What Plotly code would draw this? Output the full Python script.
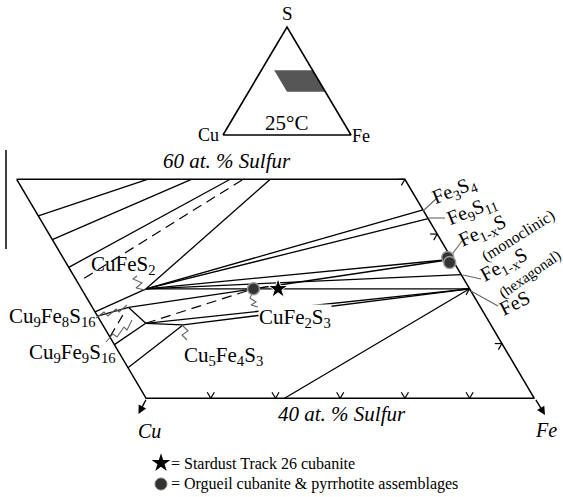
import plotly.graph_objects as go

W, H = 563, 497

# ---------------- data: phase compositions [at.% Cu, at.% S] ----------------
CHALCOPYRITE = [25.0, 50.0]      # CuFeS2
CUBANITE = [16.7, 50.0]          # CuFe2S3 (Orgueil)
CUBANITE_SD = [14.8, 50.0]       # Stardust Track 26 cubanite
FE3S4 = [0.0, 57.2]
FE9S11 = [0.0, 56.4]
PO_MONO = [0.0, 52.7]
PO_HEX = [0.0, 51.3]
FES = [0.0, 50.0]
ISS_A = [27.2, 48.3]
ISS_B = [26.6, 46.85]
ISS_C = [23.8, 46.7]

frame_cu = [30, 0, 0, 30, 30]
frame_s = [60, 60, 40, 40, 60]

solid_ties = [
    ([30.0, 56.65], [19.9, 60.0]),
    ([30.0, 54.5], [16.5, 60.0]),
    ([30.0, 51.96], [13.5, 60.0]),
    (CHALCOPYRITE, [10.4, 60.0]),
    (CHALCOPYRITE, FE3S4),
    (CHALCOPYRITE, FE9S11),
    (CHALCOPYRITE, PO_MONO),
    (CHALCOPYRITE, PO_HEX),
    (CHALCOPYRITE, FES),
    (CUBANITE, PO_MONO),
    ([30.0, 47.9], CHALCOPYRITE),
    ([30.0, 47.5], ISS_A),
    (ISS_A, CUBANITE),
    (ISS_A, ISS_B),
    (ISS_B, [30.0, 44.9]),
    (ISS_B, ISS_C),
    (ISS_C, [30.0, 42.8]),
    (ISS_B, FES),
    (ISS_C, FES),
    ([19.3, 40.0], FES),
]
dashed_ties = [
    ([29.3, 50.96], [12.5, 60.0]),
    (ISS_B, CUBANITE),
    ([30.0, 45.6], [28.0, 47.6]),
]

bottom_tick_cu = [5, 10, 15, 20, 25]
right_tick_s = [45, 50, 55, 60]

orgueil_cu = [16.7, 0.26, 0.34]
orgueil_s = [50.0, 52.86, 52.4]
stardust_cu = [CUBANITE_SD[0]]
stardust_s = [CUBANITE_SD[1]]

# inset ternary: region of the enlarged section
inset_cu = [30, 0, 0, 30]
inset_s = [60, 60, 40, 40]


def tx(cu, s):
    """ternary -> cartesian x (Fe + S/2)"""
    return 100 - cu - s / 2.0


# pixel helpers for decorations (labels / leaders)
X0, KX = 16.7, 12.94
Y0, KY = 398.3, 10.95


def pix(px, py):
    return 40 + (px - X0) / KX, 40 + (Y0 - py) / KY


def pp(px, py):
    return px / W, 1 - py / H


fig = go.Figure()


def add_segments(pairs, dash="solid", width=1.3, color="black"):
    xs, ys = [], []
    for a, b in pairs:
        xs += [tx(*a), tx(*b), None]
        ys += [a[1], b[1], None]
    fig.add_trace(go.Scatter(x=xs, y=ys, mode="lines",
                             line=dict(color=color, width=width, dash=dash),
                             hoverinfo="skip", showlegend=False))


def add_pixline(points, color="#555", width=1.0):
    xs, ys = zip(*[pix(*p) for p in points])
    fig.add_trace(go.Scatter(x=list(xs), y=list(ys), mode="lines",
                             line=dict(color=color, width=width),
                             hoverinfo="skip", showlegend=False))


# frame
fig.add_trace(go.Scatter(x=[tx(c, s) for c, s in zip(frame_cu, frame_s)], y=frame_s,
                         mode="lines", line=dict(color="black", width=1.5),
                         hoverinfo="skip", showlegend=False))
add_segments(solid_ties, width=1.3)
add_segments(dashed_ties, dash="10px,6px", width=1.2)

# ticks
tick_pairs = []
d = 0.55
for c in bottom_tick_cu:
    tick_pairs.append(([c, 40 + d], [c, 40]))
    tick_pairs.append(([c, 40], [c - d, 40 + d]))
for s in right_tick_s:
    tick_pairs.append(([d, s], [0, s]))
    tick_pairs.append(([0, s], [d, s - d]))
add_segments(tick_pairs, width=1.2)

# leaders (gray)
leaders = [
    [(145, 290), (136, 288), (142, 283), (133, 279), (137, 276)],
    [(96, 318), (104, 312), (108, 316), (116, 309), (119, 312), (127, 305)],
    [(106, 342), (113, 334), (117, 337), (124, 327), (127, 330), (132, 320)],
    [(182, 325), (188, 331), (182, 335), (187, 340)],
    [(252, 294), (250, 298), (256, 302), (251, 305), (258, 307)],
    [(423, 211), (437, 198)],
    [(428, 218), (445, 218)],
    [(450, 257), (462, 241)],
    [(463, 275), (481, 279)],
    [(471, 291), (498, 306)],
]
for L in leaders:
    add_pixline(L, color="#666", width=1.1)

FONT = "Liberation Serif, Times New Roman, serif"


def label(text, px, py, size=18, angle=0, xanchor="center", color="black", bg=None):
    x, y = pp(px, py)
    fig.add_annotation(x=x, y=y, xref="paper", yref="paper", text=text, showarrow=False,
                       textangle=angle, xanchor=xanchor, yanchor="middle",
                       bgcolor=bg, borderpad=0,
                       font=dict(family=FONT, size=size, color=color))


# markers
fig.add_trace(go.Scatter(x=[tx(c, s) for c, s in zip(orgueil_cu, orgueil_s)], y=orgueil_s,
                         mode="markers",
                         marker=dict(size=12, color="#333", line=dict(color="#999", width=1.5)),
                         hoverinfo="skip", showlegend=False))
fig.add_trace(go.Scatter(x=[tx(c, s) for c, s in zip(stardust_cu, stardust_s)], y=stardust_s,
                         mode="markers",
                         marker=dict(size=15, color="black", symbol="star",
                                     line=dict(color="white", width=1)),
                         hoverinfo="skip", showlegend=False))

# legend keys
kx1, ky1 = pix(161, 463)
kx2, ky2 = pix(161, 484)
fig.add_trace(go.Scatter(x=[kx1], y=[ky1], mode="markers",
                         marker=dict(size=14, color="black", symbol="star"),
                         hoverinfo="skip", showlegend=False))
fig.add_trace(go.Scatter(x=[kx2], y=[ky2], mode="markers",
                         marker=dict(size=12, color="#333", line=dict(color="#777", width=1)),
                         hoverinfo="skip", showlegend=False))

# inset triangle
tri_cu = [100, 0, 0, 100]
tri_s = [0, 0, 100, 0]
fig.add_trace(go.Scatter(x=[tx(c, s) for c, s in zip(inset_cu, inset_s)] + [tx(inset_cu[0], inset_s[0])],
                         y=inset_s + [inset_s[0]], mode="lines", fill="toself",
                         fillcolor="#565656", line=dict(width=0, color="#565656"),
                         xaxis="x2", yaxis="y2", hoverinfo="skip", showlegend=False))
fig.add_trace(go.Scatter(x=[tx(c, s) for c, s in zip(tri_cu, tri_s)], y=tri_s,
                         mode="lines", line=dict(color="black", width=1.6),
                         xaxis="x2", yaxis="y2", hoverinfo="skip", showlegend=False))

label("S", 287, 14, 19)
label("Cu", 208, 135, 18)
label("Fe", 361, 136, 18)
label("25°C", 286, 123, 21)

label("<i>60 at. % Sulfur</i>", 227, 161, 21)
label("<i>40 at. % Sulfur</i>", 342, 414, 21)
label("<i>Cu</i>", 149, 431, 20)
label("<i>Fe</i>", 546, 430, 20)

label("CuFeS<sub>2</sub>", 123, 265, 21)
label("Cu<sub>9</sub>Fe<sub>8</sub>S<sub>16</sub>", 52, 317, 21)
label("Cu<sub>9</sub>Fe<sub>9</sub>S<sub>16</sub>", 72, 353, 21)
label("Cu<sub>5</sub>Fe<sub>4</sub>S<sub>3</sub>", 223, 356, 21)
label("CuFe<sub>2</sub>S<sub>3</sub>", 295, 318, 21, bg="white")
label("Fe<sub>3</sub>S<sub>4</sub>", 455, 191, 20, -22)
label("Fe<sub>9</sub>S<sub>11</sub>", 472, 210, 20, -22)
label("Fe<sub>1-x</sub>S", 483, 232, 20, -25)
label("(monoclinic)", 518, 236, 16, -32)
label("Fe<sub>1-x</sub>S", 504, 265, 20, -28)
label("(hexagonal)", 530, 274, 15, -35)
label("FeS", 514, 303, 20, -27)

label("= Stardust Track 26 cubanite", 170, 463, 16, xanchor="left")
label("= Orgueil cubanite &amp; pyrrhotite assemblages", 170, 484, 16, xanchor="left")

# arrows
for head, tail in [((138.5, 414), (146.7, 398.3)), ((545, 415), (535, 398.3))]:
    hx, hy = pp(*head)
    fig.add_annotation(x=hx, y=hy, xref="paper", yref="paper", ax=tail[0] - head[0], ay=tail[1] - head[1],
                       axref="pixel", ayref="pixel", showarrow=True, arrowhead=2, arrowsize=1.2,
                       arrowwidth=1.4, arrowcolor="black", text="")

# crop line at left
fig.add_shape(type="line", xref="paper", yref="paper", x0=6 / W, x1=6 / W, y0=1 - 150 / H, y1=1 - 249 / H,
              line=dict(color="black", width=1.5))

xr = [40 - X0 / KX, 40 + (W - X0) / KX]
yr = [40 - (H - Y0) / KY, 40 + Y0 / KY]
fig.update_layout(
    width=W, height=H, margin=dict(l=0, r=0, t=0, b=0),
    paper_bgcolor="white", plot_bgcolor="rgba(0,0,0,0)", showlegend=False,
    xaxis=dict(range=xr, visible=False, domain=[0, 1], fixedrange=True),
    yaxis=dict(range=yr, visible=False, domain=[0, 1], fixedrange=True),
    xaxis2=dict(range=[-5, 105], domain=[216.6 / W, 357.4 / W], visible=False, anchor="y2"),
    yaxis2=dict(range=[-5, 105], domain=[1 - 140.4 / H, 1 - 21.6 / H], visible=False, anchor="x2"),
)
fig.write_html("out.html", config={"displayModeBar": False},
               post_script="document.body.style.margin='0px';document.body.style.overflow='hidden';")
